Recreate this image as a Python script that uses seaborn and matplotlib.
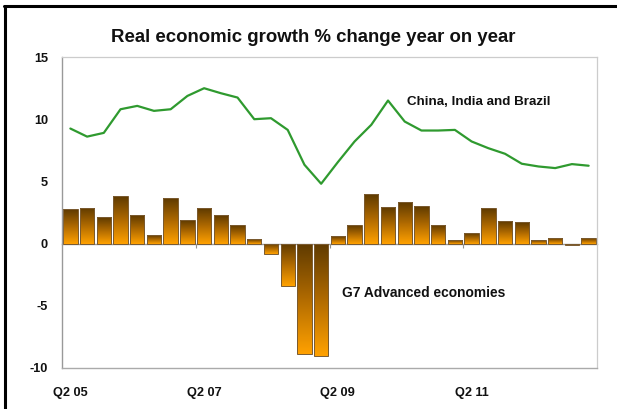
import numpy as np
import pandas as pd
import matplotlib
matplotlib.use("Agg")
import matplotlib.pyplot as plt
from matplotlib.colors import LinearSegmentedColormap
from matplotlib.lines import Line2D
import seaborn as sns

# ---------------- data ----------------
quarters = [f"Q{q} {y:02d}" for y, q in
            [(5, 2), (5, 3), (5, 4), (6, 1), (6, 2), (6, 3), (6, 4), (7, 1),
             (7, 2), (7, 3), (7, 4), (8, 1), (8, 2), (8, 3), (8, 4), (9, 1),
             (9, 2), (9, 3), (9, 4), (10, 1), (10, 2), (10, 3), (10, 4), (11, 1),
             (11, 2), (11, 3), (11, 4), (12, 1), (12, 2), (12, 3), (12, 4), (13, 1)]]
g7 = [2.8, 2.9, 2.1, 3.85, 2.3, 0.72, 3.64, 1.9,
      2.83, 2.3, 1.5, 0.35, -0.86, -3.4, -8.9, -9.04,
      0.59, 1.5, 3.96, 2.94, 3.34, 3.02, 1.47, 0.27,
      0.86, 2.83, 1.84, 1.71, 0.29, 0.43, -0.08, 0.45]
cib = [9.25, 8.6, 8.9, 10.8, 11.07, 10.67, 10.8, 11.87,
       12.49, 12.09, 11.74, 10.0, 10.08, 9.14, 6.34, 4.81,
       6.55, 8.21, 9.55, 11.5, 9.81, 9.09, 9.09, 9.14,
       8.21, 7.67, 7.22, 6.42, 6.2, 6.07, 6.39, 6.26]
tick_labels = ["Q2 05", "Q2 07", "Q2 09", "Q2 11"]
yticks = [-10, -5, 0, 5, 10, 15]
title = "Real economic growth % change year on year"
label_cib = "China, India and Brazil"
label_g7 = "G7 Advanced economies"

df = pd.DataFrame({"quarter": quarters, "g7": g7, "cib": cib,
                   "pos": np.arange(len(quarters))})

# ---------------- style ----------------
sns.set_style("white")
plt.rcParams["font.family"] = ["Liberation Sans", "DejaVu Sans"]
plt.rcParams["font.weight"] = "bold"

fig = plt.figure(figsize=(6.17, 4.09), dpi=100)
ax = fig.add_axes([62 / 617, 1 - 368 / 409, 535 / 617, 311 / 409])

sns.barplot(data=df, x="quarter", y="g7", order=quarters, ax=ax,
            width=0.86, color="#ff9900", edgecolor="#7a5a30", linewidth=0.7,
            saturation=1)

cmap = LinearSegmentedColormap.from_list("brorange", ["#5e3a00", "#b06a00", "#ffa100"])
grad = np.linspace(0, 1, 128).reshape(-1, 1)
for p in list(ax.patches):
    x0 = p.get_x()
    w = p.get_width()
    y = p.get_y()
    h = p.get_height()
    lo, hi = min(y, y + h), max(y, y + h)
    im = ax.imshow(grad, cmap=cmap, extent=[x0, x0 + w, lo, hi], origin="upper",
                   aspect="auto", zorder=p.get_zorder() - 0.1, interpolation="bilinear")
    im.set_clip_path(p)
    p.set_facecolor("none")

sns.lineplot(data=df, x="pos", y="cib", ax=ax, color="#2f9a2f", linewidth=1.6,
             sort=False, zorder=5)

ax.set_xlim(-0.5, len(quarters) - 0.5)
ax.set_ylim(-10, 15)
ax.set_yticks(yticks)
ax.set_yticklabels([str(v) for v in yticks])
ax.set_xticks([0, 8, 16, 24])
ax.set_xticklabels(tick_labels)
ax.set_xlabel("")
ax.set_ylabel("")
ax.tick_params(axis="y", direction="out", length=5, width=0.8, color="#909090",
               pad=5, labelsize=9.2)
ax.tick_params(axis="x", length=0, pad=14, labelsize=9.2)
for lab in ax.get_xticklabels() + ax.get_yticklabels():
    lab.set_fontweight("bold")
    lab.set_color("#111111")

for side in ["top", "right"]:
    ax.spines[side].set_visible(True)
    ax.spines[side].set_color("#cccccc")
    ax.spines[side].set_linewidth(0.9)
ax.spines["left"].set_color("#999999")
ax.spines["left"].set_linewidth(1.0)
ax.spines["bottom"].set_color("#aaaaaa")
ax.spines["bottom"].set_linewidth(1.0)

# zero category axis with small boundary ticks
sec = ax.secondary_xaxis(0.4)
sec.set_xticks([7.5, 15.5, 23.5])
sec.tick_params(axis="x", direction="out", length=3, width=0.8, color="#909090",
                labelbottom=False)
sec.spines["bottom"].set_color("#999999")
sec.spines["bottom"].set_linewidth(1.0)

ax.text(0.645, 0.855, label_cib, transform=ax.transAxes, ha="left", va="center",
        fontsize=9.6, fontweight="bold", color="#111111")
ax.text(0.523, 0.241, label_g7, transform=ax.transAxes, ha="left", va="center",
        fontsize=9.9, fontweight="bold", color="#111111")

fig.text(313 / 617, 1 - 38 / 409, title, ha="center", va="center",
         fontsize=13.4, fontweight="bold", color="#111111")

# outer frame (left and top edges visible)
fig.add_artist(Line2D([4.5 / 617, 4.5 / 617], [0, 1 - 6 / 409], color="black",
                      linewidth=2.2, transform=fig.transFigure))
fig.add_artist(Line2D([3.5 / 617, 1], [1 - 6 / 409, 1 - 6 / 409], color="black",
                      linewidth=2.2, transform=fig.transFigure))

fig.savefig("out.png", dpi=100)
